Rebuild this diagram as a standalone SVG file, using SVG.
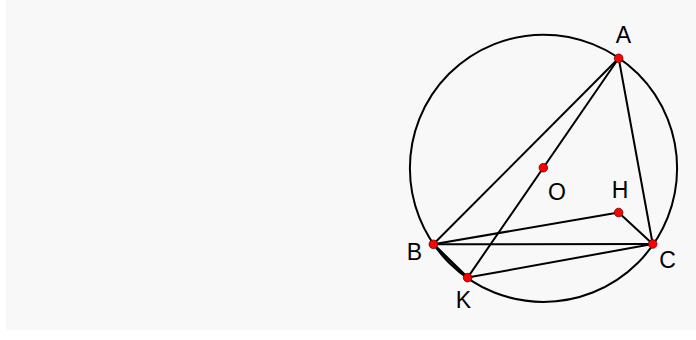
<svg xmlns="http://www.w3.org/2000/svg" width="696" height="340" viewBox="0 0 696 340">
<style>
.ln{stroke:#000;stroke-width:2;fill:none;stroke-linecap:round}
.pt{fill:#f00;stroke:#600;stroke-width:0.8}
.lb{font-family:"Liberation Sans",Arial,sans-serif;font-size:23px;fill:#000;text-anchor:middle}
</style>
<rect x="0" y="0" width="696" height="340" fill="#fff"/>
<rect x="6" y="0" width="690" height="330" fill="#f8f8f8"/>
<g id="connectors">
<circle class="ln" cx="543.5" cy="168.3" r="133.6"/>
<line class="ln" x1="618.7" y1="58.3" x2="433.3" y2="244.3"/>
<line class="ln" x1="618.7" y1="58.3" x2="652.7" y2="244"/>
<line class="ln" x1="618.7" y1="58.3" x2="467.6" y2="277.6"/>
<line class="ln" x1="433.3" y1="244.3" x2="652.7" y2="244"/>
<line class="ln" x1="433.3" y1="244.3" x2="618.6" y2="212.5"/>
<line class="ln" x1="618.6" y1="212.5" x2="652.7" y2="244"/>
<line class="ln" x1="467.6" y1="277.6" x2="652.7" y2="244"/>
<line class="ln" style="stroke-width:2.7" x1="433.3" y1="244.3" x2="467.6" y2="277.6"/>
</g>
<g id="A"><circle class="pt" cx="618.7" cy="58.3" r="4.3"/><text class="lb" x="623.5" y="42.5">A</text></g>
<g id="B"><circle class="pt" cx="433.3" cy="244.3" r="4.3"/><text class="lb" x="414.5" y="260">B</text></g>
<g id="C"><circle class="pt" cx="652.7" cy="244" r="4.3"/><text class="lb" x="667.5" y="267.5">C</text></g>
<g id="K"><circle class="pt" cx="467.6" cy="277.6" r="4.3"/><text class="lb" x="463.5" y="307.5">K</text></g>
<g id="O"><circle class="pt" cx="543.3" cy="167.7" r="4.3"/><text class="lb" x="557" y="199.5">O</text></g>
<g id="H"><circle class="pt" cx="618.6" cy="212.5" r="4.3"/><text class="lb" x="620" y="197.5">H</text></g>
</svg>
